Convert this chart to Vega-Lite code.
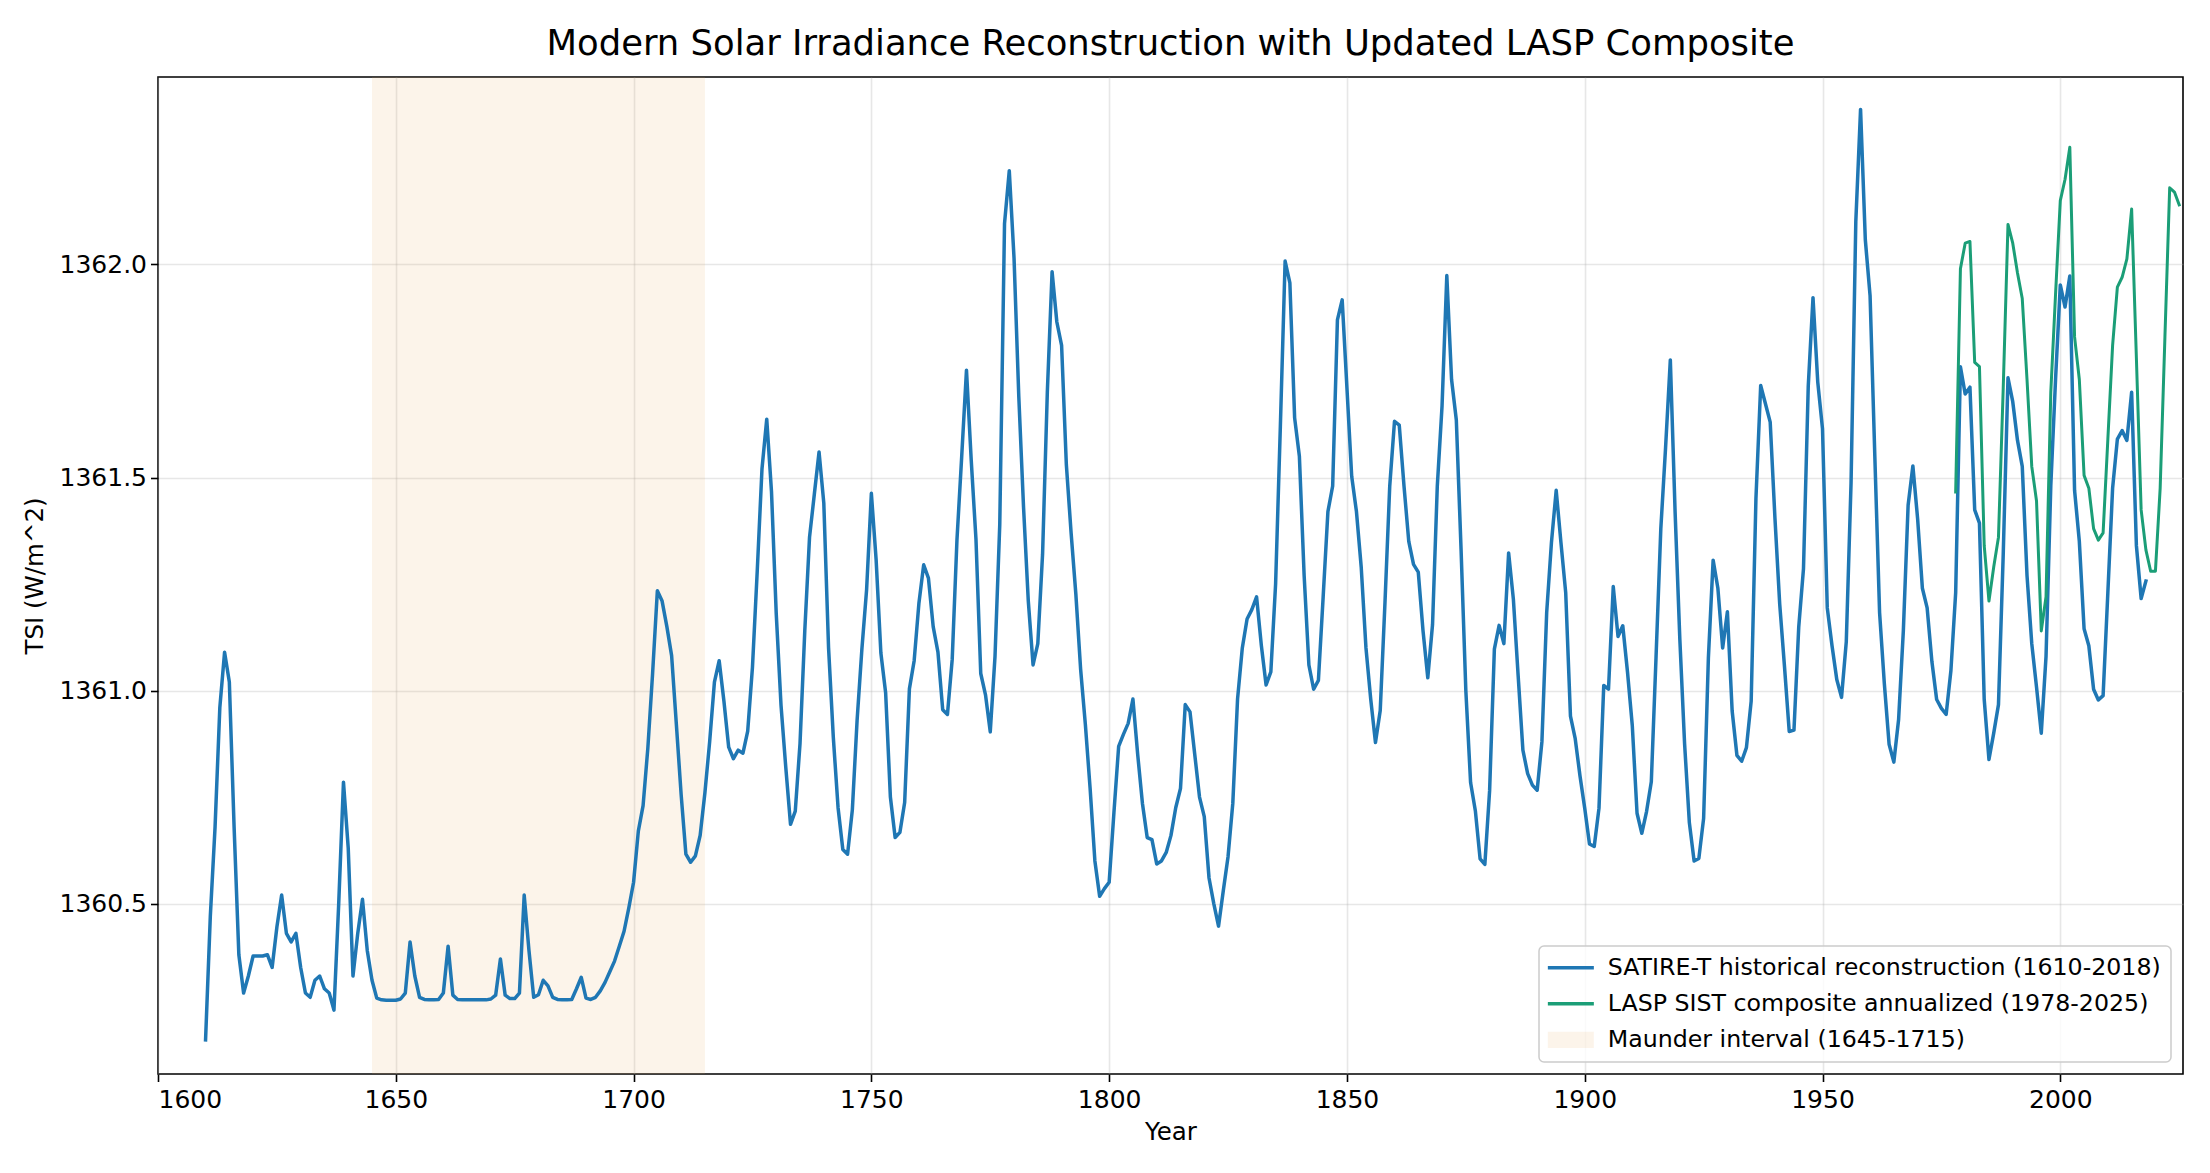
{
  "$schema": "https://vega.github.io/schema/vega-lite/v6.json",
  "width": 2025,
  "height": 997,
  "autosize": {"type": "none"},
  "padding": {"left": 158, "top": 77, "right": 27, "bottom": 99},
  "background": "white",
  "title": {
    "text": "Modern Solar Irradiance Reconstruction with Updated LASP Composite",
    "font": "DejaVu Sans",
    "fontSize": 35.4,
    "fontWeight": "normal",
    "color": "black",
    "anchor": "middle",
    "offset": 15
  },
  "datasets": {
    "satire": [
      {"year": 1610, "tsi": 1360.18}, {"year": 1611, "tsi": 1360.47}, {"year": 1612, "tsi": 1360.68}, {"year": 1613, "tsi": 1360.96},
      {"year": 1614, "tsi": 1361.09}, {"year": 1615, "tsi": 1361.02}, {"year": 1616, "tsi": 1360.68}, {"year": 1617, "tsi": 1360.38},
      {"year": 1618, "tsi": 1360.29}, {"year": 1619, "tsi": 1360.33}, {"year": 1620, "tsi": 1360.377}, {"year": 1621, "tsi": 1360.377},
      {"year": 1622, "tsi": 1360.377}, {"year": 1623, "tsi": 1360.38}, {"year": 1624, "tsi": 1360.35}, {"year": 1625, "tsi": 1360.445},
      {"year": 1626, "tsi": 1360.52}, {"year": 1627, "tsi": 1360.43}, {"year": 1628, "tsi": 1360.41}, {"year": 1629, "tsi": 1360.43},
      {"year": 1630, "tsi": 1360.35}, {"year": 1631, "tsi": 1360.29}, {"year": 1632, "tsi": 1360.28}, {"year": 1633, "tsi": 1360.32},
      {"year": 1634, "tsi": 1360.33}, {"year": 1635, "tsi": 1360.3}, {"year": 1636, "tsi": 1360.29}, {"year": 1637, "tsi": 1360.25},
      {"year": 1638, "tsi": 1360.5}, {"year": 1639, "tsi": 1360.785}, {"year": 1640, "tsi": 1360.63}, {"year": 1641, "tsi": 1360.33},
      {"year": 1642, "tsi": 1360.43}, {"year": 1643, "tsi": 1360.51}, {"year": 1644, "tsi": 1360.39}, {"year": 1645, "tsi": 1360.32},
      {"year": 1646, "tsi": 1360.278}, {"year": 1647, "tsi": 1360.274}, {"year": 1648, "tsi": 1360.273}, {"year": 1649, "tsi": 1360.273},
      {"year": 1650, "tsi": 1360.273}, {"year": 1651, "tsi": 1360.276}, {"year": 1652, "tsi": 1360.29}, {"year": 1653, "tsi": 1360.41},
      {"year": 1654, "tsi": 1360.33}, {"year": 1655, "tsi": 1360.28}, {"year": 1656, "tsi": 1360.275}, {"year": 1657, "tsi": 1360.274},
      {"year": 1658, "tsi": 1360.274}, {"year": 1659, "tsi": 1360.275}, {"year": 1660, "tsi": 1360.29}, {"year": 1661, "tsi": 1360.4},
      {"year": 1662, "tsi": 1360.285}, {"year": 1663, "tsi": 1360.275}, {"year": 1664, "tsi": 1360.274}, {"year": 1665, "tsi": 1360.274},
      {"year": 1666, "tsi": 1360.274}, {"year": 1667, "tsi": 1360.274}, {"year": 1668, "tsi": 1360.274}, {"year": 1669, "tsi": 1360.274},
      {"year": 1670, "tsi": 1360.276}, {"year": 1671, "tsi": 1360.285}, {"year": 1672, "tsi": 1360.37}, {"year": 1673, "tsi": 1360.285},
      {"year": 1674, "tsi": 1360.277}, {"year": 1675, "tsi": 1360.277}, {"year": 1676, "tsi": 1360.29}, {"year": 1677, "tsi": 1360.52},
      {"year": 1678, "tsi": 1360.39}, {"year": 1679, "tsi": 1360.28}, {"year": 1680, "tsi": 1360.286}, {"year": 1681, "tsi": 1360.32},
      {"year": 1682, "tsi": 1360.307}, {"year": 1683, "tsi": 1360.28}, {"year": 1684, "tsi": 1360.275}, {"year": 1685, "tsi": 1360.274},
      {"year": 1686, "tsi": 1360.274}, {"year": 1687, "tsi": 1360.275}, {"year": 1688, "tsi": 1360.3}, {"year": 1689, "tsi": 1360.327},
      {"year": 1690, "tsi": 1360.278}, {"year": 1691, "tsi": 1360.275}, {"year": 1692, "tsi": 1360.28}, {"year": 1693, "tsi": 1360.295},
      {"year": 1694, "tsi": 1360.315}, {"year": 1695, "tsi": 1360.34}, {"year": 1696, "tsi": 1360.365}, {"year": 1697, "tsi": 1360.4},
      {"year": 1698, "tsi": 1360.435}, {"year": 1699, "tsi": 1360.49}, {"year": 1700, "tsi": 1360.55}, {"year": 1701, "tsi": 1360.67},
      {"year": 1702, "tsi": 1360.73}, {"year": 1703, "tsi": 1360.865}, {"year": 1704, "tsi": 1361.04}, {"year": 1705, "tsi": 1361.234},
      {"year": 1706, "tsi": 1361.21}, {"year": 1707, "tsi": 1361.15}, {"year": 1708, "tsi": 1361.082}, {"year": 1709, "tsi": 1360.92},
      {"year": 1710, "tsi": 1360.756}, {"year": 1711, "tsi": 1360.616}, {"year": 1712, "tsi": 1360.597}, {"year": 1713, "tsi": 1360.612},
      {"year": 1714, "tsi": 1360.66}, {"year": 1715, "tsi": 1360.76}, {"year": 1716, "tsi": 1360.88}, {"year": 1717, "tsi": 1361.02},
      {"year": 1718, "tsi": 1361.07}, {"year": 1719, "tsi": 1360.975}, {"year": 1720, "tsi": 1360.867}, {"year": 1721, "tsi": 1360.84},
      {"year": 1722, "tsi": 1360.86}, {"year": 1723, "tsi": 1360.853}, {"year": 1724, "tsi": 1360.905}, {"year": 1725, "tsi": 1361.055},
      {"year": 1726, "tsi": 1361.28}, {"year": 1727, "tsi": 1361.52}, {"year": 1728, "tsi": 1361.637}, {"year": 1729, "tsi": 1361.467},
      {"year": 1730, "tsi": 1361.18}, {"year": 1731, "tsi": 1360.966}, {"year": 1732, "tsi": 1360.82}, {"year": 1733, "tsi": 1360.686},
      {"year": 1734, "tsi": 1360.717}, {"year": 1735, "tsi": 1360.876}, {"year": 1736, "tsi": 1361.14}, {"year": 1737, "tsi": 1361.36},
      {"year": 1738, "tsi": 1361.46}, {"year": 1739, "tsi": 1361.56}, {"year": 1740, "tsi": 1361.44}, {"year": 1741, "tsi": 1361.1},
      {"year": 1742, "tsi": 1360.89}, {"year": 1743, "tsi": 1360.725}, {"year": 1744, "tsi": 1360.627}, {"year": 1745, "tsi": 1360.616},
      {"year": 1746, "tsi": 1360.72}, {"year": 1747, "tsi": 1360.93}, {"year": 1748, "tsi": 1361.096}, {"year": 1749, "tsi": 1361.237},
      {"year": 1750, "tsi": 1361.463}, {"year": 1751, "tsi": 1361.307}, {"year": 1752, "tsi": 1361.088}, {"year": 1753, "tsi": 1360.995},
      {"year": 1754, "tsi": 1360.75}, {"year": 1755, "tsi": 1360.655}, {"year": 1756, "tsi": 1360.667}, {"year": 1757, "tsi": 1360.737},
      {"year": 1758, "tsi": 1361.004}, {"year": 1759, "tsi": 1361.07}, {"year": 1760, "tsi": 1361.205}, {"year": 1761, "tsi": 1361.295},
      {"year": 1762, "tsi": 1361.264}, {"year": 1763, "tsi": 1361.15}, {"year": 1764, "tsi": 1361.09}, {"year": 1765, "tsi": 1360.955},
      {"year": 1766, "tsi": 1360.944}, {"year": 1767, "tsi": 1361.073}, {"year": 1768, "tsi": 1361.354}, {"year": 1769, "tsi": 1361.55},
      {"year": 1770, "tsi": 1361.752}, {"year": 1771, "tsi": 1361.54}, {"year": 1772, "tsi": 1361.354}, {"year": 1773, "tsi": 1361.04},
      {"year": 1774, "tsi": 1360.99}, {"year": 1775, "tsi": 1360.903}, {"year": 1776, "tsi": 1361.08}, {"year": 1777, "tsi": 1361.39},
      {"year": 1778, "tsi": 1362.096}, {"year": 1779, "tsi": 1362.22}, {"year": 1780, "tsi": 1362.015}, {"year": 1781, "tsi": 1361.69},
      {"year": 1782, "tsi": 1361.43}, {"year": 1783, "tsi": 1361.21}, {"year": 1784, "tsi": 1361.06}, {"year": 1785, "tsi": 1361.11},
      {"year": 1786, "tsi": 1361.32}, {"year": 1787, "tsi": 1361.7}, {"year": 1788, "tsi": 1361.983}, {"year": 1789, "tsi": 1361.865},
      {"year": 1790, "tsi": 1361.81}, {"year": 1791, "tsi": 1361.53}, {"year": 1792, "tsi": 1361.37}, {"year": 1793, "tsi": 1361.226},
      {"year": 1794, "tsi": 1361.05}, {"year": 1795, "tsi": 1360.92}, {"year": 1796, "tsi": 1360.77}, {"year": 1797, "tsi": 1360.6},
      {"year": 1798, "tsi": 1360.517}, {"year": 1799, "tsi": 1360.535}, {"year": 1800, "tsi": 1360.55}, {"year": 1801, "tsi": 1360.713},
      {"year": 1802, "tsi": 1360.869}, {"year": 1803, "tsi": 1360.897}, {"year": 1804, "tsi": 1360.923}, {"year": 1805, "tsi": 1360.98},
      {"year": 1806, "tsi": 1360.85}, {"year": 1807, "tsi": 1360.735}, {"year": 1808, "tsi": 1360.655}, {"year": 1809, "tsi": 1360.65},
      {"year": 1810, "tsi": 1360.593}, {"year": 1811, "tsi": 1360.6}, {"year": 1812, "tsi": 1360.62}, {"year": 1813, "tsi": 1360.66},
      {"year": 1814, "tsi": 1360.725}, {"year": 1815, "tsi": 1360.77}, {"year": 1816, "tsi": 1360.967}, {"year": 1817, "tsi": 1360.95},
      {"year": 1818, "tsi": 1360.85}, {"year": 1819, "tsi": 1360.75}, {"year": 1820, "tsi": 1360.704}, {"year": 1821, "tsi": 1360.56},
      {"year": 1822, "tsi": 1360.5}, {"year": 1823, "tsi": 1360.447}, {"year": 1824, "tsi": 1360.53}, {"year": 1825, "tsi": 1360.61},
      {"year": 1826, "tsi": 1360.735}, {"year": 1827, "tsi": 1360.98}, {"year": 1828, "tsi": 1361.1}, {"year": 1829, "tsi": 1361.168},
      {"year": 1830, "tsi": 1361.19}, {"year": 1831, "tsi": 1361.22}, {"year": 1832, "tsi": 1361.106}, {"year": 1833, "tsi": 1361.013},
      {"year": 1834, "tsi": 1361.044}, {"year": 1835, "tsi": 1361.25}, {"year": 1836, "tsi": 1361.62}, {"year": 1837, "tsi": 1362.008},
      {"year": 1838, "tsi": 1361.957}, {"year": 1839, "tsi": 1361.64}, {"year": 1840, "tsi": 1361.55}, {"year": 1841, "tsi": 1361.27},
      {"year": 1842, "tsi": 1361.06}, {"year": 1843, "tsi": 1361.003}, {"year": 1844, "tsi": 1361.024}, {"year": 1845, "tsi": 1361.22},
      {"year": 1846, "tsi": 1361.42}, {"year": 1847, "tsi": 1361.48}, {"year": 1848, "tsi": 1361.87}, {"year": 1849, "tsi": 1361.917},
      {"year": 1850, "tsi": 1361.71}, {"year": 1851, "tsi": 1361.503}, {"year": 1852, "tsi": 1361.42}, {"year": 1853, "tsi": 1361.29},
      {"year": 1854, "tsi": 1361.1}, {"year": 1855, "tsi": 1360.98}, {"year": 1856, "tsi": 1360.878}, {"year": 1857, "tsi": 1360.953},
      {"year": 1858, "tsi": 1361.207}, {"year": 1859, "tsi": 1361.48}, {"year": 1860, "tsi": 1361.632}, {"year": 1861, "tsi": 1361.623},
      {"year": 1862, "tsi": 1361.48}, {"year": 1863, "tsi": 1361.35}, {"year": 1864, "tsi": 1361.296}, {"year": 1865, "tsi": 1361.278},
      {"year": 1866, "tsi": 1361.14}, {"year": 1867, "tsi": 1361.03}, {"year": 1868, "tsi": 1361.155}, {"year": 1869, "tsi": 1361.48},
      {"year": 1870, "tsi": 1361.668}, {"year": 1871, "tsi": 1361.974}, {"year": 1872, "tsi": 1361.73}, {"year": 1873, "tsi": 1361.635},
      {"year": 1874, "tsi": 1361.33}, {"year": 1875, "tsi": 1361.0}, {"year": 1876, "tsi": 1360.784}, {"year": 1877, "tsi": 1360.718},
      {"year": 1878, "tsi": 1360.605}, {"year": 1879, "tsi": 1360.592}, {"year": 1880, "tsi": 1360.765}, {"year": 1881, "tsi": 1361.097},
      {"year": 1882, "tsi": 1361.153}, {"year": 1883, "tsi": 1361.11}, {"year": 1884, "tsi": 1361.323}, {"year": 1885, "tsi": 1361.214},
      {"year": 1886, "tsi": 1361.035}, {"year": 1887, "tsi": 1360.86}, {"year": 1888, "tsi": 1360.805}, {"year": 1889, "tsi": 1360.778},
      {"year": 1890, "tsi": 1360.766}, {"year": 1891, "tsi": 1360.88}, {"year": 1892, "tsi": 1361.183}, {"year": 1893, "tsi": 1361.347},
      {"year": 1894, "tsi": 1361.47}, {"year": 1895, "tsi": 1361.347}, {"year": 1896, "tsi": 1361.23}, {"year": 1897, "tsi": 1360.94},
      {"year": 1898, "tsi": 1360.887}, {"year": 1899, "tsi": 1360.8}, {"year": 1900, "tsi": 1360.724}, {"year": 1901, "tsi": 1360.64},
      {"year": 1902, "tsi": 1360.634}, {"year": 1903, "tsi": 1360.724}, {"year": 1904, "tsi": 1361.012}, {"year": 1905, "tsi": 1361.003},
      {"year": 1906, "tsi": 1361.244}, {"year": 1907, "tsi": 1361.127}, {"year": 1908, "tsi": 1361.152}, {"year": 1909, "tsi": 1361.043},
      {"year": 1910, "tsi": 1360.918}, {"year": 1911, "tsi": 1360.712}, {"year": 1912, "tsi": 1360.665}, {"year": 1913, "tsi": 1360.716},
      {"year": 1914, "tsi": 1360.786}, {"year": 1915, "tsi": 1361.08}, {"year": 1916, "tsi": 1361.38}, {"year": 1917, "tsi": 1361.57},
      {"year": 1918, "tsi": 1361.776}, {"year": 1919, "tsi": 1361.42}, {"year": 1920, "tsi": 1361.12}, {"year": 1921, "tsi": 1360.875},
      {"year": 1922, "tsi": 1360.69}, {"year": 1923, "tsi": 1360.6}, {"year": 1924, "tsi": 1360.606}, {"year": 1925, "tsi": 1360.7},
      {"year": 1926, "tsi": 1361.076}, {"year": 1927, "tsi": 1361.306}, {"year": 1928, "tsi": 1361.24}, {"year": 1929, "tsi": 1361.1},
      {"year": 1930, "tsi": 1361.185}, {"year": 1931, "tsi": 1360.952}, {"year": 1932, "tsi": 1360.848}, {"year": 1933, "tsi": 1360.834},
      {"year": 1934, "tsi": 1360.866}, {"year": 1935, "tsi": 1360.975}, {"year": 1936, "tsi": 1361.45}, {"year": 1937, "tsi": 1361.716},
      {"year": 1938, "tsi": 1361.673}, {"year": 1939, "tsi": 1361.63}, {"year": 1940, "tsi": 1361.404}, {"year": 1941, "tsi": 1361.203},
      {"year": 1942, "tsi": 1361.057}, {"year": 1943, "tsi": 1360.904}, {"year": 1944, "tsi": 1360.907}, {"year": 1945, "tsi": 1361.149},
      {"year": 1946, "tsi": 1361.286}, {"year": 1947, "tsi": 1361.714}, {"year": 1948, "tsi": 1361.922}, {"year": 1949, "tsi": 1361.724},
      {"year": 1950, "tsi": 1361.614}, {"year": 1951, "tsi": 1361.194}, {"year": 1952, "tsi": 1361.105}, {"year": 1953, "tsi": 1361.026},
      {"year": 1954, "tsi": 1360.984}, {"year": 1955, "tsi": 1361.115}, {"year": 1956, "tsi": 1361.487}, {"year": 1957, "tsi": 1362.1},
      {"year": 1958, "tsi": 1362.364}, {"year": 1959, "tsi": 1362.058}, {"year": 1960, "tsi": 1361.927}, {"year": 1961, "tsi": 1361.55},
      {"year": 1962, "tsi": 1361.183}, {"year": 1963, "tsi": 1361.016}, {"year": 1964, "tsi": 1360.874}, {"year": 1965, "tsi": 1360.832},
      {"year": 1966, "tsi": 1360.932}, {"year": 1967, "tsi": 1361.141}, {"year": 1968, "tsi": 1361.435}, {"year": 1969, "tsi": 1361.527},
      {"year": 1970, "tsi": 1361.403}, {"year": 1971, "tsi": 1361.24}, {"year": 1972, "tsi": 1361.194}, {"year": 1973, "tsi": 1361.068},
      {"year": 1974, "tsi": 1360.979}, {"year": 1975, "tsi": 1360.958}, {"year": 1976, "tsi": 1360.944}, {"year": 1977, "tsi": 1361.047},
      {"year": 1978, "tsi": 1361.23}, {"year": 1979, "tsi": 1361.76}, {"year": 1980, "tsi": 1361.696}, {"year": 1981, "tsi": 1361.712},
      {"year": 1982, "tsi": 1361.424}, {"year": 1983, "tsi": 1361.393}, {"year": 1984, "tsi": 1360.979}, {"year": 1985, "tsi": 1360.838},
      {"year": 1986, "tsi": 1360.9}, {"year": 1987, "tsi": 1360.967}, {"year": 1988, "tsi": 1361.32}, {"year": 1989, "tsi": 1361.734},
      {"year": 1990, "tsi": 1361.678}, {"year": 1991, "tsi": 1361.587}, {"year": 1992, "tsi": 1361.526}, {"year": 1993, "tsi": 1361.27},
      {"year": 1994, "tsi": 1361.11}, {"year": 1995, "tsi": 1361.008}, {"year": 1996, "tsi": 1360.9}, {"year": 1997, "tsi": 1361.08},
      {"year": 1998, "tsi": 1361.48}, {"year": 1999, "tsi": 1361.73}, {"year": 2000, "tsi": 1361.952}, {"year": 2001, "tsi": 1361.9},
      {"year": 2002, "tsi": 1361.973}, {"year": 2003, "tsi": 1361.47}, {"year": 2004, "tsi": 1361.35}, {"year": 2005, "tsi": 1361.145},
      {"year": 2006, "tsi": 1361.105}, {"year": 2007, "tsi": 1361.003}, {"year": 2008, "tsi": 1360.978}, {"year": 2009, "tsi": 1360.988},
      {"year": 2010, "tsi": 1361.23}, {"year": 2011, "tsi": 1361.475}, {"year": 2012, "tsi": 1361.59}, {"year": 2013, "tsi": 1361.61},
      {"year": 2014, "tsi": 1361.587}, {"year": 2015, "tsi": 1361.7}, {"year": 2016, "tsi": 1361.34}, {"year": 2017, "tsi": 1361.216},
      {"year": 2018, "tsi": 1361.257}
    ],
    "lasp": [
      {"year": 1978, "tsi": 1361.466}, {"year": 1979, "tsi": 1361.99}, {"year": 1980, "tsi": 1362.05}, {"year": 1981, "tsi": 1362.054},
      {"year": 1982, "tsi": 1361.77}, {"year": 1983, "tsi": 1361.76}, {"year": 1984, "tsi": 1361.34}, {"year": 1985, "tsi": 1361.21},
      {"year": 1986, "tsi": 1361.29}, {"year": 1987, "tsi": 1361.36}, {"year": 1988, "tsi": 1361.71}, {"year": 1989, "tsi": 1362.094},
      {"year": 1990, "tsi": 1362.05}, {"year": 1991, "tsi": 1361.98}, {"year": 1992, "tsi": 1361.92}, {"year": 1993, "tsi": 1361.73},
      {"year": 1994, "tsi": 1361.526}, {"year": 1995, "tsi": 1361.445}, {"year": 1996, "tsi": 1361.14}, {"year": 1997, "tsi": 1361.22},
      {"year": 1998, "tsi": 1361.7}, {"year": 1999, "tsi": 1361.93}, {"year": 2000, "tsi": 1362.15}, {"year": 2001, "tsi": 1362.2},
      {"year": 2002, "tsi": 1362.275}, {"year": 2003, "tsi": 1361.83}, {"year": 2004, "tsi": 1361.73}, {"year": 2005, "tsi": 1361.505},
      {"year": 2006, "tsi": 1361.475}, {"year": 2007, "tsi": 1361.38}, {"year": 2008, "tsi": 1361.353}, {"year": 2009, "tsi": 1361.37},
      {"year": 2010, "tsi": 1361.59}, {"year": 2011, "tsi": 1361.81}, {"year": 2012, "tsi": 1361.947}, {"year": 2013, "tsi": 1361.97},
      {"year": 2014, "tsi": 1362.013}, {"year": 2015, "tsi": 1362.13}, {"year": 2016, "tsi": 1361.78}, {"year": 2017, "tsi": 1361.424},
      {"year": 2018, "tsi": 1361.33}, {"year": 2019, "tsi": 1361.28}, {"year": 2020, "tsi": 1361.28}, {"year": 2021, "tsi": 1361.475},
      {"year": 2022, "tsi": 1361.83}, {"year": 2023, "tsi": 1362.18}, {"year": 2024, "tsi": 1362.17}, {"year": 2025, "tsi": 1362.14}
    ],
    "maunder": [
      {"start": 1645, "end": 1715}
    ]
  },
  "layer": [
    {
      "data": {"name": "maunder"},
      "mark": {"type": "rect", "fillOpacity": 0.13, "strokeWidth": 0},
      "encoding": {
        "x": {"field": "start", "type": "quantitative", "scale": {"domain": [1600, 2025.8], "nice": false, "zero": false}},
        "x2": {"field": "end"},
        "color": {"datum": "Maunder interval (1645-1715)"}
      }
    },
    {
      "data": {"name": "satire"},
      "mark": {"type": "line", "strokeWidth": 3.5, "strokeJoin": "round", "strokeCap": "square"},
      "encoding": {
        "x": {
          "field": "year", "type": "quantitative",
          "scale": {"domain": [1600, 2025.8], "nice": false, "zero": false},
          "axis": {"title": "Year", "values": [1600, 1650, 1700, 1750, 1800, 1850, 1900, 1950, 2000], "format": "d", "labelPadding": 6, "titlePadding": 8}
        },
        "y": {
          "field": "tsi", "type": "quantitative",
          "scale": {"domain": [1360.1, 1362.44], "nice": false, "zero": false},
          "axis": {"title": "TSI (W/m^2)", "values": [1360.5, 1361.0, 1361.5, 1362.0], "format": ".1f", "labelPadding": 4, "titlePadding": 12}
        },
        "color": {
          "datum": "SATIRE-T historical reconstruction (1610-2018)",
          "scale": {
            "domain": ["SATIRE-T historical reconstruction (1610-2018)", "LASP SIST composite annualized (1978-2025)", "Maunder interval (1645-1715)"],
            "range": ["#1f77b4", "#1b9e77", "#e8a860"]
          },
          "legend": {
            "title": null,
            "orient": "bottom-right",
            "offset": 12,
            "padding": 10,
            "fillColor": "rgba(255,255,255,0.8)",
            "strokeColor": "#cccccc",
            "cornerRadius": 5,
            "labelFont": "DejaVu Sans",
            "labelFontSize": 23.7,
            "labelColor": "black",
            "labelLimit": 800,
            "rowPadding": 11,
            "symbolOffset": 10,
            "labelOffset": 25,
            "encode": {
              "legend": {
                "update": {"strokeWidth": {"value": 1.5}}
              },
              "symbols": {
                "update": {
                  "shape": {"signal": "datum.value === 'Maunder interval (1645-1715)' ? 'M-2,-0.7H2V0.7H-2Z' : 'M-2,0H2'"},
                  "size": {"value": 529},
                  "strokeWidth": {"signal": "datum.value === 'Maunder interval (1645-1715)' ? 0 : 3.5"},
                  "strokeOpacity": {"signal": "datum.value === 'Maunder interval (1645-1715)' ? 0 : 1"},
                  "fill": {"signal": "datum.value === 'Maunder interval (1645-1715)' ? '#e8a860' : 'transparent'"},
                  "fillOpacity": {"signal": "datum.value === 'Maunder interval (1645-1715)' ? 0.13 : 0"},
                  "opacity": {"value": 1}
                }
              }
            }
          }
        }
      }
    },
    {
      "data": {"name": "lasp"},
      "mark": {"type": "line", "strokeWidth": 3.0, "strokeJoin": "round", "strokeCap": "square"},
      "encoding": {
        "x": {"field": "year", "type": "quantitative"},
        "y": {"field": "tsi", "type": "quantitative"},
        "color": {"datum": "LASP SIST composite annualized (1978-2025)"}
      }
    }
  ],
  "config": {
    "font": "DejaVu Sans",
    "view": {"stroke": "black", "strokeWidth": 1.6},
    "axis": {
      "domain": false,
      "tickColor": "black",
      "tickWidth": 1.6,
      "tickSize": 7.5,
      "labelColor": "black",
      "labelFont": "DejaVu Sans",
      "labelFontSize": 25,
      "titleFont": "DejaVu Sans",
      "titleFontSize": 24.5,
      "titleFontWeight": "normal",
      "titleColor": "black",
      "grid": true,
      "gridColor": "#b0b0b0",
      "gridOpacity": 0.3,
      "gridWidth": 1.6
    }
  }
}
